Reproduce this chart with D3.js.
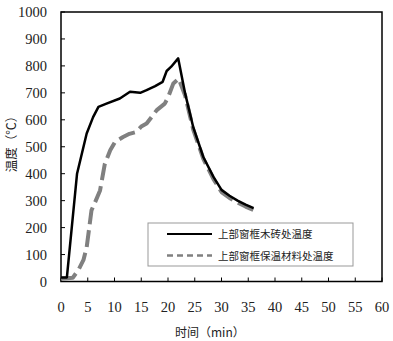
<!DOCTYPE html>
<html>
<head>
<meta charset="utf-8">
<script src="https://cdn.jsdelivr.net/npm/d3@7"></script>
<style>
  body { margin: 0; background: white; }
  svg { display: block; }
</style>
</head>
<body>
<div id="chart"></div>
<script>
  // 上部窗框木砖处温度 (black)
  var woodTime = [0, 1.1, 3.0, 4.8, 6.0, 7.0, 8.5, 11.0, 12.9, 14.8, 16.0, 17.6, 19.0, 19.75, 20.6, 21.9, 23.2, 24.7, 26.6, 28.5, 30.0, 31.5, 33.0, 34.5, 36.0]
  var woodTemp = [15, 15, 400, 549, 610, 648, 660, 679, 704, 700, 710, 725, 741, 781, 797, 828, 698, 574, 462, 388, 340, 318, 300, 285, 272]

  // 上部窗框保温材料处温度 (grey dashed)
  var insTime = [0, 2.2, 3.2, 4.2, 4.8, 5.7, 6.5, 7.3, 8.2, 9.2, 10.1, 11.6, 12.8, 14.1, 15.0, 16.0, 17.0, 17.9, 19.4, 20.05, 21.0, 22.0, 23.2, 24.7, 26.6, 28.5, 30.0, 31.5, 33.0, 34.5, 36.0]
  var insTemp = [10, 14, 41, 80, 127, 264, 300, 338, 437, 487, 518, 536, 548, 555, 575, 586, 612, 636, 660, 685, 735, 753, 690, 565, 455, 380, 332, 310, 293, 278, 265]

  var xTicks = [0, 5, 10, 15, 20, 25, 30, 35, 40, 45, 50, 55, 60]
  var yTicks = [0, 100, 200, 300, 400, 500, 600, 700, 800, 900, 1000]

  var seriesNames = ["上部窗框木砖处温度", "上部窗框保温材料处温度"]

  var numFont = "'Liberation Serif', serif"
  var cjkFont = "'Noto Sans CJK SC', sans-serif"

  var svg = d3.select("#chart").append("svg")
    .attr("width", 393)
    .attr("height", 341)

  var x = d3.scaleLinear()
    .domain([0, 60])
    .range([61, 382])

  var y = d3.scaleLinear()
    .domain([0, 1000])
    .range([281.5, 12])

  // plot frame
  svg.append("rect")
    .attr("x", x(0))
    .attr("y", y(1000))
    .attr("width", x(60) - x(0))
    .attr("height", y(0) - y(1000))
    .attr("fill", "none")
    .attr("stroke", "black")
    .attr("stroke-width", 1.5)

  // x ticks pointing inward
  svg.selectAll("xtick")
    .data(xTicks)
    .enter()
    .append("line")
    .attr("x1", d => x(d))
    .attr("x2", d => x(d))
    .attr("y1", y(0))
    .attr("y2", y(0) - 4)
    .attr("stroke", "black")
    .attr("stroke-width", 1)

  svg.selectAll("xlabel")
    .data(xTicks)
    .enter()
    .append("text")
    .text(d => d)
    .attr("x", d => x(d))
    .attr("y", 312)
    .attr("text-anchor", "middle")
    .attr("font-size", 14.5)
    .attr("fill", "#222")
    .style("font-family", numFont)

  // y ticks
  svg.selectAll("ytick")
    .data(yTicks)
    .enter()
    .append("line")
    .attr("x1", x(0))
    .attr("x2", x(0) + 4)
    .attr("y1", d => y(d))
    .attr("y2", d => y(d))
    .attr("stroke", "black")
    .attr("stroke-width", 1)

  svg.selectAll("ylabel")
    .data(yTicks)
    .enter()
    .append("text")
    .text(d => d)
    .attr("x", 47)
    .attr("y", d => y(d) + 5)
    .attr("text-anchor", "end")
    .attr("font-size", 14.5)
    .attr("fill", "#222")
    .style("font-family", numFont)

  // axis titles
  svg.append("text")
    .text("时间（min）")
    .attr("x", 175)
    .attr("y", 337)
    .attr("font-size", 12)
    .attr("fill", "#222")
    .style("font-family", cjkFont)

  svg.append("text")
    .text("温度（℃）")
    .attr("transform", "translate(16,141) rotate(-90)")
    .attr("text-anchor", "middle")
    .attr("font-size", 12.5)
    .attr("fill", "#222")
    .style("font-family", cjkFont)

  var line = d3.line()
    .x(d => x(d[0]))
    .y(d => y(d[1]))

  var insData = d3.zip(insTime, insTemp)
  var woodData = d3.zip(woodTime, woodTemp)

  svg.append("path")
    .datum(insData)
    .attr("d", line)
    .attr("fill", "none")
    .attr("stroke", "#808080")
    .attr("stroke-width", 4)
    .attr("stroke-dasharray", "17,6")
    .attr("stroke-linejoin", "round")

  svg.append("path")
    .datum(woodData)
    .attr("d", line)
    .attr("fill", "none")
    .attr("stroke", "black")
    .attr("stroke-width", 2.5)
    .attr("stroke-linejoin", "round")

  // legend
  svg.append("rect")
    .attr("x", 148)
    .attr("y", 223)
    .attr("width", 205)
    .attr("height", 43)
    .attr("fill", "white")
    .attr("stroke", "#999")
    .attr("stroke-width", 1)

  var legendColor = ["black", "#808080"]
  var legendDash = ["none", "6,4"]
  var legendWidth = [2, 2.5]

  svg.selectAll("legline")
    .data(seriesNames)
    .enter()
    .append("line")
    .attr("x1", 167)
    .attr("x2", 212)
    .attr("y1", (d, i) => 234 + i * 21.5)
    .attr("y2", (d, i) => 234 + i * 21.5)
    .attr("stroke", (d, i) => legendColor[i])
    .attr("stroke-width", (d, i) => legendWidth[i])
    .attr("stroke-dasharray", (d, i) => legendDash[i])

  svg.selectAll("legtext")
    .data(seriesNames)
    .enter()
    .append("text")
    .text(d => d)
    .attr("x", 218)
    .attr("y", (d, i) => 238 + i * 21.5)
    .attr("font-size", 10.5)
    .attr("fill", "#222")
    .style("font-family", cjkFont)
</script>
</body>
</html>
